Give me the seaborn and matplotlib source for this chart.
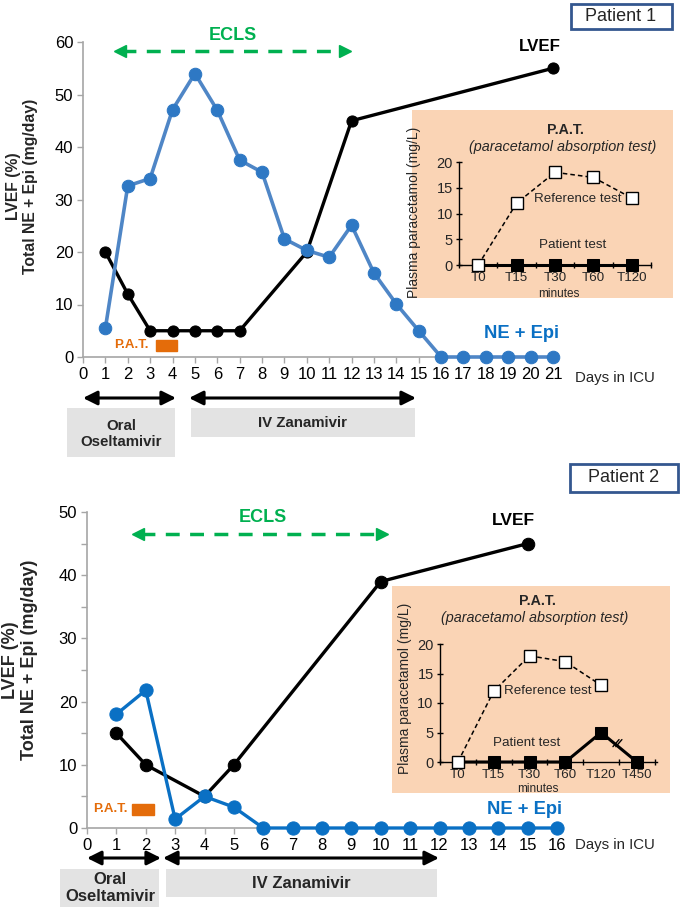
import matplotlib
matplotlib.use("Agg")
import matplotlib.pyplot as plt
from matplotlib.patches import Rectangle
import numpy as np
import seaborn as sns

sns.set_theme(style="white")
plt.rcParams['font.family'] = ['Liberation Sans', 'DejaVu Sans']

# DATA
# patient 1
p1_days = list(range(1, 22))
p1_ne_epi = [5.5, 32.6, 34, 47.1, 54, 47, 37.5, 35.2, 22.5, 20.3, 19, 25.1, 16, 10.1, 5,
             0, 0, 0, 0, 0, 0]
p1_lvef_days = [1, 2, 3, 4, 5, 6, 7, 10, 12, 21]
p1_lvef = [20, 12, 5, 5, 5, 5, 5, 20, 45, 55]
p1_xticks = list(range(0, 22))

# patient 2
p2_days = list(range(1, 17))
p2_ne_epi = [18, 21.8, 1.4, 5, 3.3, 0, 0, 0, 0, 0, 0, 0, 0, 0, 0, 0]
p2_lvef_days = [1, 2, 4, 5, 10, 15]
p2_lvef = [15, 10, 5, 10, 39, 45]
p2_xticks = list(range(0, 17))

# paracetamol absorption test (insets)
pat_times_1 = ["T0", "T15", "T30", "T60", "T120"]
pat_ref_1 = [0, 12, 18, 17, 13]
pat_patient_1 = [0, 0, 0, 0, 0]

pat_times_2 = ["T0", "T15", "T30", "T60", "T120", "T450"]
pat_ref_2 = [0, 12, 18, 17, 13]
pat_patient_2 = [0, 0, 0, 0, 5, 0]

BLUE1 = "#4f86c6"
BLUE1_M = "#2e78c4"
BLUE2 = "#0a70c4"
GREEN = "#00b050"
ORANGE = "#e46c0a"
PEACH = "#fad4b5"
GRAY_BOX = "#e3e3e3"
AXIS_GRAY = "#a6a6a6"

W, H = 685, 907
fig = plt.figure(figsize=(W / 100, H / 100), dpi=100)


def px_rect(x0, y0, x1, y1):
    # pixel box (top-left origin) -> figure fraction
    return [x0 / W, 1 - y1 / H, (x1 - x0) / W, (y1 - y0) / H]


# overlay for annotations in pixel coords
ov = fig.add_axes([0, 0, 1, 1])
ov.set_xlim(0, W)
ov.set_ylim(H, 0)
ov.axis("off")

ARROW = dict(arrowstyle="<|-|>,head_length=0.7,head_width=0.35", color="black", lw=2.2,
             mutation_scale=12, shrinkA=0, shrinkB=0)


def style_main(ax, xmax, ymax, ystep, xticks, minor=None):
    ax.set_facecolor("none")
    ax.set_xlim(0, xmax)
    ax.set_ylim(0, ymax)
    sns.despine(ax=ax)
    for s in ["left", "bottom"]:
        ax.spines[s].set_color(AXIS_GRAY)
        ax.spines[s].set_linewidth(1.2)
    ax.set_xticks(xticks)
    ax.set_yticks(np.arange(0, ymax + 1, ystep))
    if minor is not None:
        ax.set_yticks(np.arange(0, ymax + 1, minor), minor=True)
    ax.tick_params(axis="both", which="both", direction="out", length=4, color=AXIS_GRAY,
                   width=1, labelsize=12, labelcolor="black", pad=3,
                   left=True, bottom=True)
    ax.set_xlabel("")
    ax.set_ylabel("")
    ax.grid(False)


def style_inset(ax, times, xmax):
    ax.set_facecolor("none")
    ax.set_xlim(-0.5, xmax)
    ax.set_ylim(0, 20)
    sns.despine(ax=ax)
    for s in ["left", "bottom"]:
        ax.spines[s].set_color("black")
        ax.spines[s].set_linewidth(1)
    ax.set_xticks(range(len(times)))
    ax.set_xticklabels(times)
    ax.set_xticks(np.arange(-0.5, len(times), 1), minor=True)
    ax.set_yticks([0, 5, 10, 15, 20])
    ax.tick_params(axis="both", which="both", direction="inout", length=5, width=1,
                   color="black", left=True, bottom=True)
    ax.tick_params(axis="x", which="major", length=0, labelsize=9.6, pad=5)
    ax.tick_params(axis="y", labelsize=10.5, pad=2)
    ax.set_xlabel("")
    ax.set_ylabel("")
    ax.grid(False)


def draw_inset(ax, ref, patient):
    x_ref = list(range(len(ref)))
    x_pat = list(range(len(patient)))
    sns.lineplot(x=x_pat, y=patient, ax=ax, color="black", linewidth=2.2, marker="s",
                 markersize=8, markerfacecolor="black", markeredgecolor="black",
                 clip_on=False, zorder=3)
    sns.lineplot(x=x_ref, y=ref, ax=ax, color="black", linewidth=1.1, linestyle=(0, (3, 2)),
                 marker="s", markersize=9, markerfacecolor="white",
                 markeredgecolor="black", markeredgewidth=1, clip_on=False, zorder=4)


# PATIENT 1
ax1 = fig.add_axes(px_rect(83, 42, 553, 357))
sns.lineplot(x=p1_lvef_days, y=p1_lvef, ax=ax1, color="black", linewidth=2.4, marker="o",
             markersize=8, markeredgecolor="black", clip_on=False, zorder=3)
sns.lineplot(x=p1_days, y=p1_ne_epi, ax=ax1, color=BLUE1, linewidth=2.6, marker="o",
             markersize=9, markerfacecolor=BLUE1_M, markeredgecolor=BLUE1_M,
             clip_on=False, zorder=4)
style_main(ax1, 21, 60, 10, p1_xticks)

# ECLS arrow
ax1.plot([1.75, 11.6], [58.3, 58.3], color=GREEN, lw=2.5, ls=(0, (4, 3)), clip_on=False)
ax1.plot([1.65], [58.3], marker="<", color=GREEN, ms=8, clip_on=False)
ax1.plot([11.7], [58.3], marker=">", color=GREEN, ms=8, clip_on=False)
ax1.text(6.7, 61.3, "ECLS", color=GREEN, fontsize=13, fontweight="bold",
         ha="center", va="center", clip_on=False)
ax1.text(20.4, 59.2, "LVEF", color="black", fontsize=12.2, fontweight="bold",
         ha="center", va="center", clip_on=False)
ax1.text(19.6, 4.4, "NE + Epi", color=BLUE2, fontsize=13.2, fontweight="bold",
         ha="center", va="center", clip_on=False)
ax1.text(2.95, 2.2, "P.A.T.", color=ORANGE, fontsize=9.5, fontweight="bold",
         ha="right", va="center")
ax1.add_patch(Rectangle((3.27, 1.1), 0.93, 2.1, color=ORANGE, clip_on=False))

# inset 1
ov.add_patch(Rectangle((412, 110), 261, 188, facecolor=PEACH, edgecolor="none", zorder=1))
in1 = fig.add_axes(px_rect(459, 162, 651, 265))
draw_inset(in1, pat_ref_1, pat_patient_1)
style_inset(in1, pat_times_1, 4.38)
in1.text(2.58, 12.8, "Reference test", fontsize=9.6, ha="center", va="center")
in1.text(2.46, 3.8, "Patient test", fontsize=9.6, ha="center", va="center")
ov.text(565, 130, "P.A.T.", fontsize=10.2, fontweight="bold", ha="center", va="center", zorder=2)
ov.text(563, 147, "(paracetamol absorption test)", fontsize=10.4, style="italic",
        ha="center", va="center", zorder=2)
ov.text(559, 294, "minutes", fontsize=8.5, ha="center", va="center", zorder=2)
ov.text(414, 212, "Plasma paracetamol (mg/L)", fontsize=10, rotation=90,
        ha="center", va="center", zorder=2)

# labels and boxes patient 1
ov.text(22, 186, "LVEF (%)\nTotal NE + Epi (mg/day)", fontsize=11.3, fontweight="bold",
        rotation=90, ha="center", va="center", multialignment="center", linespacing=1.15)
ov.text(575, 378, "Days in ICU", fontsize=10.8, ha="left", va="center")
ov.add_patch(Rectangle((571, 4), 101, 25, facecolor="white", edgecolor="#34578f", lw=2))
ov.text(621, 16.5, "Patient 1", fontsize=13, ha="center", va="center")
ov.annotate("", xy=(83, 398), xytext=(176, 398), arrowprops=ARROW)
ov.annotate("", xy=(189, 398), xytext=(416, 398), arrowprops=ARROW)
ov.add_patch(Rectangle((67, 408), 108, 49, facecolor=GRAY_BOX, edgecolor="none"))
ov.add_patch(Rectangle((191, 408), 224, 29, facecolor=GRAY_BOX, edgecolor="none"))
ov.text(121, 434, "Oral\nOseltamivir", fontsize=10.8, fontweight="bold", ha="center",
        va="center", linespacing=1.25)
ov.text(303, 423, "IV Zanamivir", fontsize=10.8, fontweight="bold", ha="center", va="center")

# PATIENT 2
ax2 = fig.add_axes(px_rect(87, 512, 557, 828))
sns.lineplot(x=p2_lvef_days, y=p2_lvef, ax=ax2, color="black", linewidth=2.4, marker="o",
             markersize=9, markeredgecolor="black", clip_on=False, zorder=3)
sns.lineplot(x=p2_days, y=p2_ne_epi, ax=ax2, color=BLUE2, linewidth=2.4, marker="o",
             markersize=9.5, markerfacecolor=BLUE2, markeredgecolor=BLUE2,
             clip_on=False, zorder=4)
style_main(ax2, 16, 50, 10, p2_xticks, minor=5)

ax2.plot([1.85, 9.95], [46.5, 46.5], color=GREEN, lw=2.5, ls=(0, (4, 3)), clip_on=False)
ax2.plot([1.75], [46.5], marker="<", color=GREEN, ms=8, clip_on=False)
ax2.plot([10.05], [46.5], marker=">", color=GREEN, ms=8, clip_on=False)
ax2.text(6.0, 49.2, "ECLS", color=GREEN, fontsize=13, fontweight="bold",
         ha="center", va="center", clip_on=False)
ax2.text(14.5, 48.7, "LVEF", color="black", fontsize=12.5, fontweight="bold",
         ha="center", va="center", clip_on=False)
ax2.text(14.9, 3.0, "NE + Epi", color=BLUE2, fontsize=13.2, fontweight="bold",
         ha="center", va="center", clip_on=False)
ax2.text(1.4, 3.0, "P.A.T.", color=ORANGE, fontsize=9.5, fontweight="bold",
         ha="right", va="center")
ax2.add_patch(Rectangle((1.54, 2.0), 0.74, 1.8, color=ORANGE, clip_on=False))

# inset 2
ov.add_patch(Rectangle((392, 586), 278, 207, facecolor=PEACH, edgecolor="none", zorder=1))
in2 = fig.add_axes(px_rect(440, 644, 657, 762))
draw_inset(in2, pat_ref_2, pat_patient_2)
style_inset(in2, pat_times_2, 5.56)
in2.text(2.5, 12.0, "Reference test", fontsize=9.6, ha="center", va="center")
in2.text(1.93, 3.2, "Patient test", fontsize=9.6, ha="center", va="center")
in2.plot([4.33, 4.5], [2.6, 3.8], color="black", lw=1)
in2.plot([4.41, 4.58], [2.6, 3.8], color="black", lw=1)
ov.text(537, 601, "P.A.T.", fontsize=10.2, fontweight="bold", ha="center", va="center", zorder=2)
ov.text(535, 618, "(paracetamol absorption test)", fontsize=10.4, style="italic",
        ha="center", va="center", zorder=2)
ov.text(538, 789, "minutes", fontsize=8.5, ha="center", va="center", zorder=2)
ov.text(405, 688, "Plasma paracetamol (mg/L)", fontsize=10, rotation=90,
        ha="center", va="center", zorder=2)

ov.text(20, 660, "LVEF (%)\nTotal NE + Epi (mg/day)", fontsize=13, fontweight="bold",
        rotation=90, ha="center", va="center", multialignment="center", linespacing=1.1)
ov.text(575, 845, "Days in ICU", fontsize=10.8, ha="left", va="center")
ov.add_patch(Rectangle((570, 464), 108, 28, facecolor="white", edgecolor="#34578f", lw=2))
ov.text(624, 478, "Patient 2", fontsize=13, ha="center", va="center")
ov.annotate("", xy=(87, 858), xytext=(161, 858), arrowprops=ARROW)
ov.annotate("", xy=(163, 858), xytext=(439, 858), arrowprops=ARROW)
ov.add_patch(Rectangle((60, 869), 99, 40, facecolor=GRAY_BOX, edgecolor="none"))
ov.add_patch(Rectangle((166, 869), 271, 28, facecolor=GRAY_BOX, edgecolor="none"))
ov.text(110, 888, "Oral\nOseltamivir", fontsize=12, fontweight="bold", ha="center",
        va="center", linespacing=1.1)
ov.text(301, 883, "IV Zanamivir", fontsize=12, fontweight="bold", ha="center", va="center")

fig.savefig("out.png", dpi=100)
